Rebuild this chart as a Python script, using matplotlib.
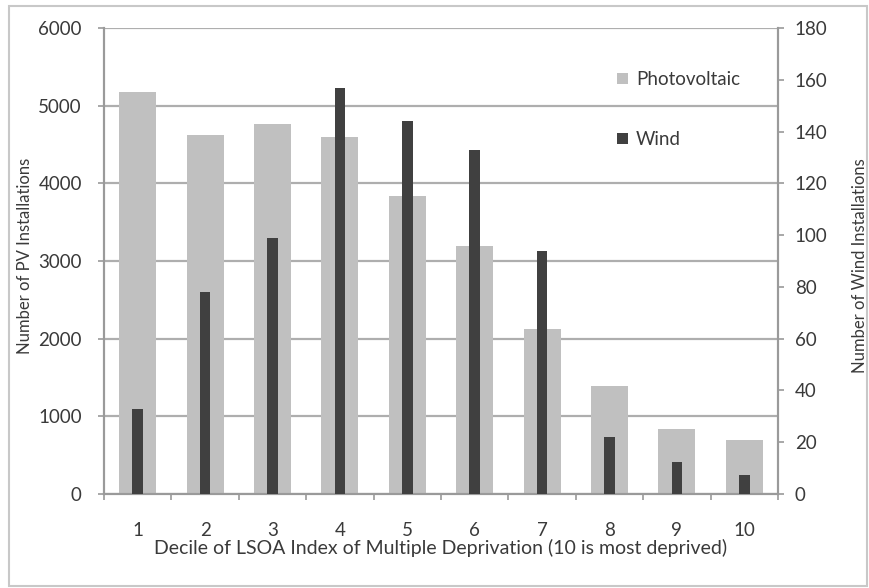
import matplotlib
matplotlib.use("Agg")
import matplotlib.pyplot as plt
from matplotlib.patches import Patch, Rectangle
import numpy as np

plt.rcParams['font.family'] = ['Lato', 'DejaVu Sans']

deciles = ["1", "2", "3", "4", "5", "6", "7", "8", "9", "10"]
pv_installs = [5180, 4620, 4770, 4600, 3840, 3190, 2120, 1390, 835, 695]
wind_installs = [33, 78, 99, 157, 144, 133, 94, 22, 12.5, 7.5]

pv_color = "#c0c0c0"
wind_color = "#404040"
axis_color = "#9a9a9a"
grid_color = "#aeaeae"
text_color = "#3a3a3a"
fs = 13.5

W, H = 870, 588
fig = plt.figure(figsize=(W / 100, H / 100), dpi=100)

# outer frame
fig.patches.append(Rectangle((9 / W, 1 - 586 / H), (867 - 9) / W, (586 - 6) / H,
                             transform=fig.transFigure, fill=False,
                             edgecolor="#c8c8c8", linewidth=1.5))

ax = fig.add_axes([104 / W, 1 - 494 / H, (778 - 104) / W, (494 - 28) / H])
ax2 = ax.twinx()

x = np.arange(len(deciles))
ax.bar(x, pv_installs, width=0.55, color=pv_color, zorder=2)
ax2.bar(x, wind_installs, width=0.16, color=wind_color, zorder=3)

ax.set_xlim(-0.5, len(deciles) - 0.5)
ax.set_ylim(0, 6000)
ax2.set_ylim(0, 180)
ax.set_yticks(np.arange(0, 6001, 1000))
ax2.set_yticks(np.arange(0, 181, 20))

ax.yaxis.grid(True, color=grid_color, linewidth=1.6, zorder=0)
ax.set_axisbelow(True)

# category ticks at boundaries, labels at centres
ax.set_xticks(np.arange(-0.5, len(deciles), 1.0))
ax.set_xticklabels([])
ax.set_xticks(x, minor=True)
ax.set_xticklabels(deciles, minor=True)
ax.tick_params(axis="x", which="major", length=4, width=1.2, color=axis_color, direction="out")
ax.tick_params(axis="x", which="minor", length=0, pad=20, labelsize=fs, labelcolor=text_color)
ax.tick_params(axis="y", length=4, width=1.2, color=axis_color, labelsize=fs,
               labelcolor=text_color, pad=12)
ax2.tick_params(axis="y", length=4, width=1.2, color=axis_color, labelsize=fs,
                labelcolor=text_color, pad=8)

for a in (ax, ax2):
    a.spines["top"].set_visible(False)
    for s in ("left", "right", "bottom"):
        a.spines[s].set_color(axis_color)
        a.spines[s].set_linewidth(1.5)

ax.set_xlabel("Decile of LSOA Index of Multiple Deprivation (10 is most deprived)",
              fontsize=14, color=text_color, labelpad=0)
ax.set_ylabel("Number of PV Installations", fontsize=12, color=text_color,
              va="center")
ax2.set_ylabel("Number of Wind Installations", fontsize=12, color=text_color,
               rotation=90, va="center")
ax.yaxis.set_label_coords(-0.117, 0.51)
ax2.yaxis.set_label_coords(1.122, 0.49)

handles = [Patch(facecolor=pv_color), Patch(facecolor=wind_color)]
ax2.legend(handles, ["Photovoltaic", "Wind"], loc="upper left",
           bbox_to_anchor=(600 / W, 1 - 54 / H), bbox_transform=fig.transFigure,
           frameon=False, fontsize=fs, labelcolor=text_color,
           handlelength=0.6, handleheight=0.55, handletextpad=0.43, labelspacing=2.3)

fig.savefig("out.png", dpi=100)
